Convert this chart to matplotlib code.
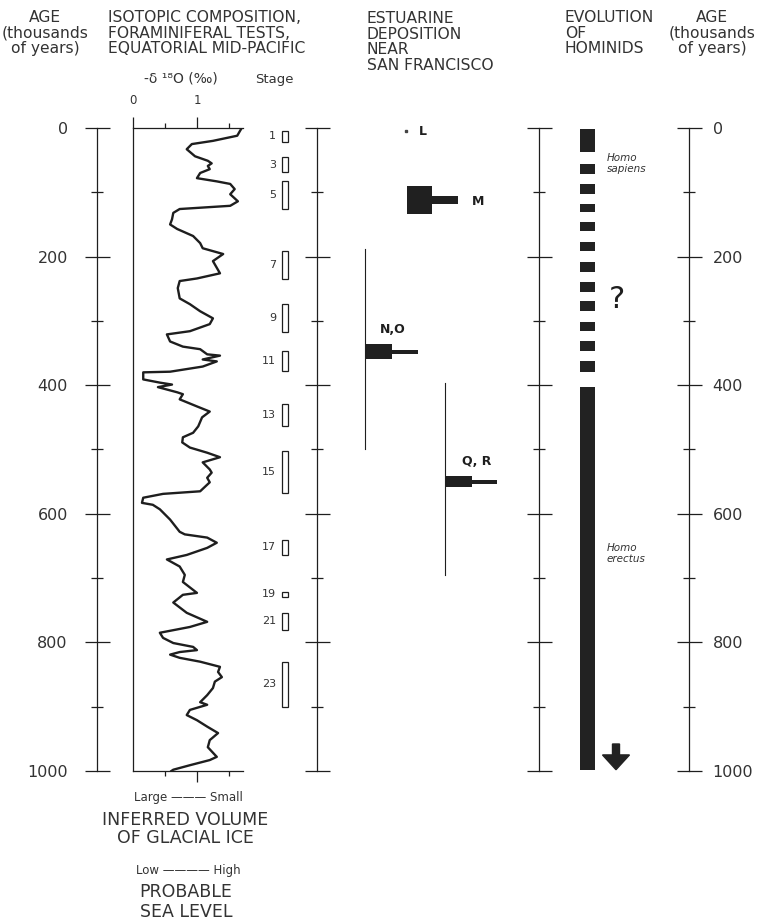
import matplotlib
matplotlib.use("Agg")
import matplotlib.pyplot as plt
from matplotlib.ticker import FixedLocator, NullFormatter

plt.rcParams['font.family'] = ['DejaVu Sans']

W, H = 757, 922
INK = '#1e1e1e'
TXT = '#333333'

# ---------------- data ----------------
age_major = [0, 200, 400, 600, 800, 1000]
age_minor = [100, 300, 500, 700, 900]

iso_age = [0, 5, 12, 20, 25, 33, 44, 51, 55, 59, 64, 70, 78, 83, 87, 95, 103, 114, 121,
           126, 132, 142, 150, 157, 168, 179, 187, 196, 207, 226, 234, 238, 249, 265,
           274, 285, 296, 305, 316, 321, 332, 340, 344, 352, 354, 360, 363, 371, 379,
           380, 391, 396, 399, 403, 411, 414, 422, 433, 441, 450, 464, 474, 481, 489,
           497, 505, 512, 520, 531, 536, 544, 551, 565, 569, 575, 583, 586, 593, 609,
           628, 632, 637, 645, 653, 664, 671, 682, 695, 706, 723, 726, 738, 754, 768,
           776, 785, 793, 801, 807, 812, 815, 819, 824, 830, 838, 846, 854, 861, 871,
           882, 893, 897, 905, 913, 921, 931, 941, 952, 963, 978, 983, 991, 998, 1000]
iso_d18o = [1.70, 1.67, 1.63, 1.25, 0.92, 0.84, 0.97, 1.17, 1.23, 1.17, 1.20, 1.05, 1.00,
            1.31, 1.52, 1.59, 1.52, 1.64, 1.52, 0.73, 0.63, 0.61, 0.58, 0.69, 0.94, 1.05,
            1.09, 1.41, 1.25, 1.36, 1.00, 0.73, 0.70, 0.73, 0.89, 1.05, 1.25, 1.20, 0.89,
            0.53, 0.58, 0.78, 1.05, 1.16, 1.36, 1.09, 1.31, 1.09, 0.58, 0.16, 0.16, 0.42,
            0.61, 0.39, 0.69, 0.78, 0.73, 1.00, 1.20, 1.08, 1.02, 0.94, 0.78, 0.77, 0.89,
            1.16, 1.36, 1.09, 1.20, 1.23, 1.16, 1.20, 1.05, 0.47, 0.16, 0.14, 0.31, 0.42,
            0.58, 0.73, 0.81, 1.16, 1.31, 1.16, 0.84, 0.53, 0.73, 0.81, 0.78, 1.00, 0.78,
            0.63, 0.84, 1.16, 0.89, 0.42, 0.47, 0.63, 0.94, 1.00, 0.73, 0.58, 0.73, 1.05,
            1.36, 1.33, 1.39, 1.28, 1.25, 1.16, 1.05, 1.16, 0.89, 0.84, 1.00, 1.16, 1.33,
            1.20, 1.17, 1.31, 1.20, 0.89, 0.63, 0.60]

stage_num = [1, 3, 5, 7, 9, 11, 13, 15, 17, 19, 21, 23]
stage_start = [4, 45, 83, 192, 274, 347, 430, 503, 640, 721, 754, 830]
stage_end = [22, 69, 126, 235, 318, 378, 464, 567, 664, 729, 780, 900]

# estuarine deposition units
est_labels = ['M', 'N,O', 'Q, R']
est_age = [112, 348, 550]
est_thick_h = [44, 24, 17]
est_thick_w = [25, 27, 27]
est_thin_h = [12, 6, 6]
est_thin_w = [26, 26, 25]
est_range_top = [None, 188, 396]
est_range_bot = [None, 500, 695]
L_age = 5

# hominid record
sap_start = [2, 56, 87, 118, 146, 178, 209, 240, 269, 301, 332, 363]
sap_end = [37, 72, 103, 131, 160, 192, 224, 255, 285, 316, 347, 380]
erectus_start, erectus_end = 403, 998


def fbox(x0, y0, x1, y1):
    return [x0 / W, 1 - y1 / H, (x1 - x0) / W, (y1 - y0) / H]


def ftext(x, y, s, **kw):
    kw.setdefault('color', TXT)
    fig.text(x / W, 1 - y / H, s, **kw)


fig = plt.figure(figsize=(W / 100, H / 100), dpi=100)

TOP, BOT = 128, 771


def age_axis(x, side=None, pad=0):
    ax = fig.add_axes(fbox(x, TOP, x + 1, BOT))
    ax.set_ylim(1000, 0)
    ax.set_xticks([])
    for s in ['top', 'bottom', 'right', 'left']:
        ax.spines[s].set_visible(False)
    sp = 'right' if side == 'right' else 'left'
    ax.spines[sp].set_visible(True)
    ax.spines[sp].set_linewidth(0.9)
    ax.spines[sp].set_color(INK)
    ax.patch.set_visible(False)
    ax.yaxis.set_major_locator(FixedLocator(age_major))
    ax.yaxis.set_minor_locator(FixedLocator(age_minor))
    if side == 'right':
        ax.yaxis.tick_right()
    elif side is None:
        ax.set_yticklabels([])
    ax.yaxis.set_minor_formatter(NullFormatter())
    ax.tick_params(which='major', direction='inout', length=18, width=0.9, color=INK,
                   labelsize=11.5, labelcolor=TXT, pad=pad)
    ax.tick_params(which='minor', direction='inout', length=9, width=0.9, color=INK)
    return ax


age_axis(97, side='left', pad=12)
age_axis(317)
age_axis(539)
age_axis(688, side='right', pad=8)

# ---------------- isotope curve ----------------
axi = fig.add_axes(fbox(133, TOP, 243, BOT))
axi.set_xlim(0, 1.72)
axi.set_ylim(1000, 0)
axi.patch.set_visible(False)
axi.spines['right'].set_visible(False)
for s in ['left', 'top', 'bottom']:
    axi.spines[s].set_linewidth(0.9)
    axi.spines[s].set_color(INK)
axi.set_yticks([])
axi.plot(iso_d18o, iso_age, color=INK, lw=1.7, solid_joinstyle='round')
axi.xaxis.set_major_locator(FixedLocator([1]))
axi.xaxis.set_minor_locator(FixedLocator([0.5, 1.5]))
axi.set_xticklabels([])
axi.tick_params(axis='x', which='major', direction='out', length=8, width=0.9, color=INK)
axi.tick_params(axis='x', which='minor', direction='out', length=3.5, width=0.9, color=INK)
sec = axi.secondary_xaxis('top')
sec.spines['top'].set_visible(False)
sec.xaxis.set_major_locator(FixedLocator([0, 1]))
sec.xaxis.set_minor_locator(FixedLocator([0.5, 1.5]))
sec.set_xticklabels(['0', '1'])
sec.xaxis.set_minor_formatter(NullFormatter())
sec.tick_params(which='major', direction='out', length=8, width=0.9, color=INK,
                labelsize=8.5, labelcolor=TXT, pad=7)
sec.tick_params(which='minor', direction='out', length=3.5, width=0.9, color=INK)

# ---------------- stages ----------------
axs = fig.add_axes(fbox(250, TOP, 300, BOT))
axs.set_xlim(0, 50)
axs.set_ylim(1000, 0)
axs.axis('off')
st_h = [e - s for s, e in zip(stage_start, stage_end)]
st_c = [(s + e) / 2 for s, e in zip(stage_start, stage_end)]
axs.barh(st_c, 6, height=st_h, left=32, fill=False, edgecolor=INK, linewidth=0.9)
for n, c in zip(stage_num, st_c):
    axs.text(26, c, str(n), ha='right', va='center', fontsize=8, color=TXT)

# ---------------- estuarine ----------------
axe = fig.add_axes(fbox(340, TOP, 520, BOT))
axe.set_xlim(0, 180)
axe.set_ylim(1000, 0)
axe.axis('off')
est_base = [67, 25, 105]
for i in range(3):
    if est_range_top[i] is not None:
        axe.plot([est_base[i], est_base[i]], [est_range_top[i], est_range_bot[i]],
                 color=INK, lw=0.8)
    axe.barh(est_age[i], est_thick_w[i], height=est_thick_h[i], left=est_base[i],
             color='#202020')
    axe.barh(est_age[i], est_thin_w[i], height=est_thin_h[i],
             left=est_base[i] + est_thick_w[i], color='#202020')
axe.plot([66], [L_age], 's', ms=2, color='#444444')
axe.text(79, L_age, 'L', ha='left', va='center', fontsize=9, fontweight='bold', color=INK)
axe.text(132, est_age[0] + 2, 'M', ha='left', va='center', fontsize=9, fontweight='bold', color=INK)
axe.text(53, 313, 'N,O', ha='center', va='center', fontsize=9, fontweight='bold', color=INK)
axe.text(137, 519, 'Q, R', ha='center', va='center', fontsize=9, fontweight='bold', color=INK)

# ---------------- hominids ----------------
axh = fig.add_axes(fbox(560, TOP, 680, BOT))
axh.set_xlim(0, 120)
axh.set_ylim(1000, 0)
axh.axis('off')
sap_h = [e - s for s, e in zip(sap_start, sap_end)]
axh.bar(27.5, sap_h, bottom=sap_start, width=15, color='#222222')
axh.bar(27.5, erectus_end - erectus_start, bottom=erectus_start, width=15, color='#222222')
axh.arrow(56, 958, 0, 40, width=7, head_width=27, head_length=23,
          length_includes_head=True, color='#222222')
axh.text(47, 55, 'Homo\nsapiens', ha='left', va='center', fontsize=7.5,
         style='italic', color=TXT, linespacing=1.2)
axh.text(47, 662, 'Homo\nerectus', ha='left', va='center', fontsize=7.5,
         style='italic', color=TXT, linespacing=1.2)
axh.text(57, 266, '?', ha='center', va='center', fontsize=22, color=INK)

# ---------------- headings ----------------
hs = 11.2
ls = 1.05
ftext(45, 33, 'AGE\n(thousands\nof years)', ha='center', va='center', fontsize=hs,
      linespacing=ls)
ftext(108, 33, 'ISOTOPIC COMPOSITION,\nFORAMINIFERAL TESTS,\nEQUATORIAL MID-PACIFIC',
      ha='left', va='center', fontsize=hs, linespacing=ls)
ftext(181, 79, '-δ ¹⁸O (‰)', ha='center', va='center', fontsize=10)
ftext(274, 80, 'Stage', ha='center', va='center', fontsize=9.5)
ftext(367, 42, 'ESTUARINE\nDEPOSITION\nNEAR\nSAN FRANCISCO', ha='left', va='center',
      fontsize=hs, linespacing=ls)
ftext(565, 33, 'EVOLUTION\nOF\nHOMINIDS', ha='left', va='center', fontsize=hs,
      linespacing=ls)
ftext(712, 33, 'AGE\n(thousands\nof years)', ha='center', va='center', fontsize=hs,
      linespacing=ls)

# ---------------- bottom legends ----------------
bs = 12.5
ftext(188, 797, 'Large ——— Small', ha='center', va='center', fontsize=8.5)
ftext(185, 829, 'INFERRED VOLUME\nOF GLACIAL ICE', ha='center', va='center', fontsize=bs,
      linespacing=1.05)
ftext(188, 870, 'Low ———— High', ha='center', va='center', fontsize=8.5)
ftext(186, 902, 'PROBABLE\nSEA LEVEL', ha='center', va='center', fontsize=bs,
      linespacing=1.15)

fig.savefig('out.png', dpi=100, facecolor='white')
